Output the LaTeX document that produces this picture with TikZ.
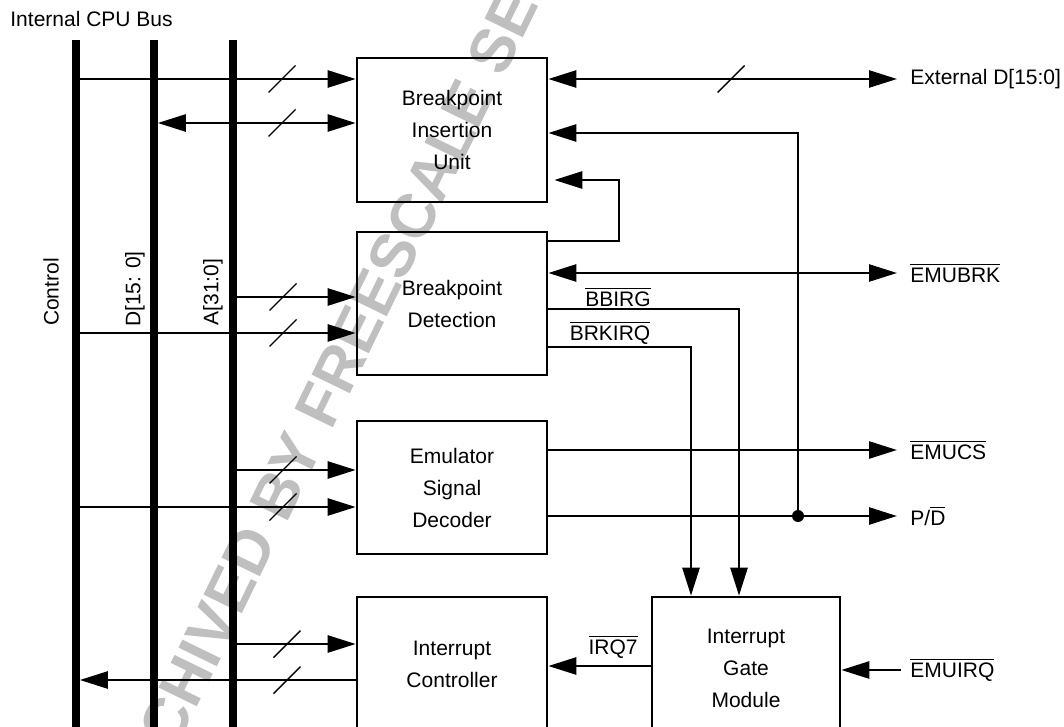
\documentclass[tikz,border=0pt]{standalone}
\usepackage{fontspec}
\setmainfont{Liberation Sans}
\usetikzlibrary{arrows.meta,positioning}
\newcommand{\ovl}[1]{$\overline{\mbox{#1}}$}

\begin{document}
\begin{tikzpicture}[
  x=0.5pt, y=-0.5pt,
  every node/.style={font=\fontsize{10.5}{16}\selectfont},
  >={Triangle[length=14pt, width=8.5pt]},
  blk/.style={draw, line width=1.3pt, minimum width=95pt, align=center, inner sep=0pt},
  sig/.style={line width=1.3pt},
  bus/.style={line width=3.8pt},
  slashmark/.style={line width=0.7pt},
  lbl/.style={inner sep=0pt},
  wmark/.style={text=black!25, font=\fontsize{31}{31}\selectfont\bfseries, inner sep=0pt, rotate=64}]
\useasboundingbox (0,0) rectangle (1064,727);
\clip (0,0) rectangle (1064,727);
% watermark behind everything
\node[wmark, anchor=base west] (wm) at (286,525) {\llap{ARCHIVED }BY FREESCALE SEMICONDUCTOR, INC.};
% the three bus lines
\node[lbl, anchor=west] (title) at (10,19) {Internal CPU Bus};
\foreach \bx/\bn in {76/ctl, 154/dat, 233/adr} {
  \coordinate (\bn) at (\bx,40);
  \draw[bus] (\bn) -- (\bx,740);
}
\node[rotate=90] (ctlL) at (51,292) {Control};
\node[rotate=90] (datL) at (135,289) {D[15: 0]};
\node[rotate=90] (adrL) at (213,292) {A[31:0]};
% blocks
\node[blk, minimum height=72pt] (biu) at (452,130) {Breakpoint\\Insertion\\Unit};
\node[blk, minimum height=71.5pt] (bd) at (452,303.5) {Breakpoint\\Detection};
\node[blk, minimum height=66.5pt] (esd) at (452,487.5) {Emulator\\Signal\\Decoder};
\node[blk, minimum height=67.5pt] (ic) at (452,664.5) {Interrupt\\Controller};
\node[blk, minimum width=94pt, minimum height=71pt] (igm) at (746,668) {Interrupt\\Gate\\Module};
% bus to block
\draw[sig, ->] (ctl |- 0,79) -- (biu.west |- 0,79);
\draw[sig, <->, shorten <=1.9pt] (dat |- 0,123) -- (biu.west |- 0,123);
\draw[sig, ->] (adr |- 0,297) -- (bd.west |- 0,297);
\draw[sig, ->] (ctl |- 0,333) -- (bd.west |- 0,333);
\draw[sig, ->] (adr |- 0,470) -- (esd.west |- 0,470);
\draw[sig, ->] (ctl |- 0,507) -- (esd.west |- 0,507);
\draw[sig, ->] (adr |- 0,644) -- (ic.west |- 0,644);
\draw[sig, ->, shorten >=1.9pt] (ic.west |- 0,680) -- (ctl |- 0,680);
\foreach \sx/\sy in {282/79, 282/123, 283/297, 283/333, 283/470, 283/507, 287/644, 287/680, 731/79}
  \draw[slashmark] (\sx,\sy) ++(-13.5,13.5) -- ++(27,-27);
% outside signals
\coordinate (extTip) at (897,79);
\coordinate (brkTip) at (897,273);
\coordinate (csTip) at (897,450);
\coordinate (pdTip) at (897,516);
\coordinate (irqTip) at (901,670);
\node[lbl, right=6.5pt of extTip] (extL) {External D[15:0]};
\node[lbl, right=6.5pt of brkTip] (brkL) {\ovl{EMUBRK}};
\node[lbl, right=6.5pt of csTip] (csL) {\ovl{EMUCS}};
\node[lbl, right=6.5pt of pdTip] (pdL) {P/\ovl{D}};
\node[lbl, right=4.5pt of irqTip] (irqL) {\ovl{EMUIRQ}};
\draw[sig, <->] (biu.east |- extTip) -- (extTip);
\draw[sig, <->] (bd.east |- brkTip) -- (brkTip);
\draw[sig, ->] (esd.east |- csTip) -- (csTip);
\draw[sig, ->] (esd.east |- pdTip) -- (pdTip);
\draw[sig, ->] (irqTip) -- (igm.east |- irqTip);
\node[circle, fill, inner sep=0pt, minimum size=6pt] (pdDot) at (798,516) {};
\draw[sig, ->] (pdDot.center) |- (biu.east |- 0,133);
% breakpoint feedback and interrupt paths
\coordinate (fbk) at (619,210);
\draw[sig, ->, shorten >=3pt] (bd.east |- 0,241) -| (fbk) |- (biu.east |- 0,180);
\coordinate (bbirgX) at (739,309);
\coordinate (brkirqX) at (691,347);
\draw[sig, ->] (bd.east |- bbirgX) -| (bbirgX |- igm.north);
\draw[sig, ->] (bd.east |- brkirqX) -| (brkirqX |- igm.north);
\node[lbl] (bbirgL) at (618,297) {\ovl{BBIRG}};
\node[lbl] (brkirqL) at (610,333) {\ovl{BRKIRQ}};
\draw[sig, ->] (igm.west |- 0,666) -- (ic.east |- 0,666);
\node[lbl] (irq7L) at (613,647) {\ovl{IRQ7}};
\end{tikzpicture}
\end{document}
